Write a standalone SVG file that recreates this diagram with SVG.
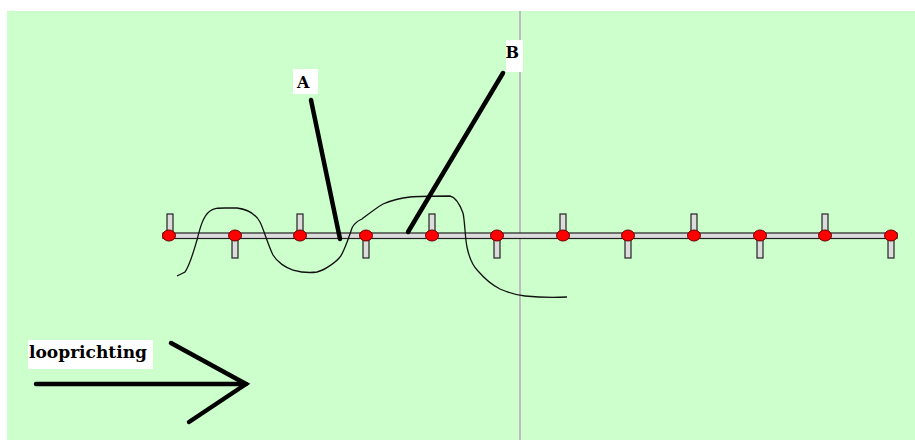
<svg xmlns="http://www.w3.org/2000/svg" width="915" height="440" viewBox="0 0 915 440">
<style>
.post{fill:#dcdcdc;stroke:#222;stroke-width:1.2}
.dot{fill:#ff0000;stroke:#600;stroke-width:1}
.thick{stroke:#000;stroke-width:4.5;stroke-linecap:round;fill:none}
.lbl{font-family:"DejaVu Serif","Liberation Serif",serif;font-weight:bold;fill:#000}
</style>
<rect x="0" y="0" width="915" height="440" fill="#ffffff"/>
<rect x="7" y="11" width="908" height="429" fill="#ccffcc"/>
<line x1="520" y1="11" x2="520" y2="440" stroke="#bdbdbd" stroke-width="2"/>
<g id="rail">
<g id="posts">
<rect class="post" x="167" y="214" width="6" height="20"/>
<rect class="post" x="297" y="214" width="6" height="20"/>
<rect class="post" x="429" y="214" width="6" height="20"/>
<rect class="post" x="560" y="214" width="6" height="20"/>
<rect class="post" x="691" y="214" width="6" height="20"/>
<rect class="post" x="822" y="214" width="6" height="20"/>
<rect class="post" x="232" y="238" width="6" height="20"/>
<rect class="post" x="363" y="238" width="6" height="20"/>
<rect class="post" x="494" y="238" width="6" height="20"/>
<rect class="post" x="625" y="238" width="6" height="20"/>
<rect class="post" x="757" y="238" width="6" height="20"/>
<rect class="post" x="888" y="238" width="6" height="20"/>
</g>
<rect class="post" x="163" y="233" width="734" height="5.5"/>
<g id="dots">
<ellipse class="dot" cx="169" cy="235.5" rx="6.5" ry="5.5"/>
<ellipse class="dot" cx="235" cy="235.5" rx="6.5" ry="5.5"/>
<ellipse class="dot" cx="300" cy="235.5" rx="6.5" ry="5.5"/>
<ellipse class="dot" cx="366" cy="235.5" rx="6.5" ry="5.5"/>
<ellipse class="dot" cx="432" cy="235.5" rx="6.5" ry="5.5"/>
<ellipse class="dot" cx="497" cy="235.5" rx="6.5" ry="5.5"/>
<ellipse class="dot" cx="563" cy="235.5" rx="6.5" ry="5.5"/>
<ellipse class="dot" cx="628" cy="235.5" rx="6.5" ry="5.5"/>
<ellipse class="dot" cx="694" cy="235.5" rx="6.5" ry="5.5"/>
<ellipse class="dot" cx="760" cy="235.5" rx="6.5" ry="5.5"/>
<ellipse class="dot" cx="825" cy="235.5" rx="6.5" ry="5.5"/>
<ellipse class="dot" cx="891" cy="235.5" rx="6.5" ry="5.5"/>
</g>
</g>
<g id="path-curve">
<path d="M177,276 L185,272 C190,265 194,250 197,240 C200,228 203,216 210,211 C214,208 218,208 225,208 L237,208 C245,209 255,213 260,222 C264,230 268,245 273,255 C277,262 286,268 293,270 C300,272 310,273 317,272 C325,270 336,262 340,257 C344,252 348,240 352,228 C355,222 358,221 362,219 C366,216 376,208 383,204 C390,201 400,198 410,197 C420,196 440,196 450,196 C455,197 460,205 463,213 C465,222 465,238 467,247 C469,257 472,265 478,271 C484,278 492,285 500,289 C507,292 515,295 525,296 C535,297 545,298 567,297" fill="none" stroke="#111" stroke-width="1.3"/>
</g>
<g id="connectors">
<line class="thick" x1="311" y1="100" x2="340" y2="239"/>
<line class="thick" x1="503" y1="73" x2="408" y2="232"/>
<line class="thick" x1="36" y1="384" x2="246" y2="384"/>
<polyline class="thick" points="171,343 246,384 189,422"/>
</g>
<g id="label-A">
<rect x="293" y="69" width="25" height="25" fill="#ffffff"/>
<text class="lbl" x="297" y="88" font-size="16">A</text>
</g>
<g id="label-B">
<rect x="506" y="40" width="17" height="32" fill="#ffffff"/>
<text class="lbl" x="505.5" y="58" font-size="16">B</text>
</g>
<g id="label-looprichting">
<rect x="28" y="340" width="125" height="29" fill="#ffffff"/>
<text class="lbl" x="29" y="358" font-size="16" textLength="118" lengthAdjust="spacingAndGlyphs">looprichting</text>
</g>
</svg>
